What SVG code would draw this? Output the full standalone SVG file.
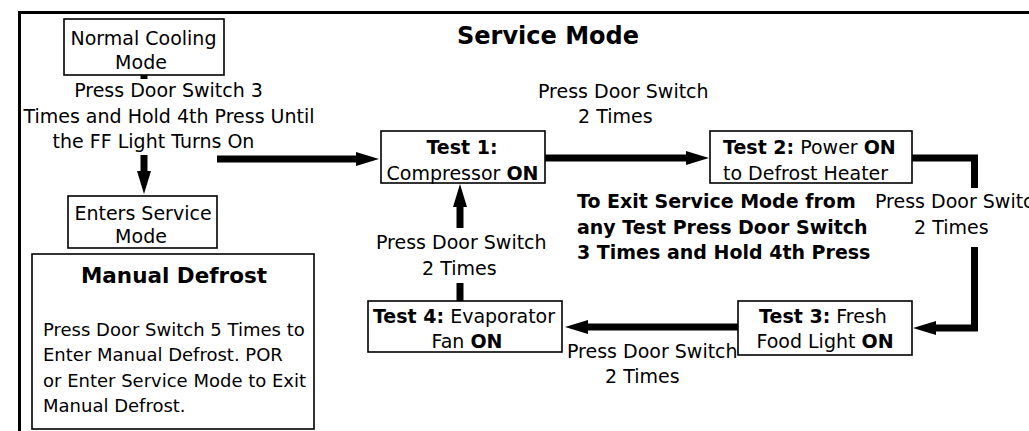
<svg xmlns="http://www.w3.org/2000/svg" width="1029" height="431" viewBox="0 0 1029 431">
<style>
text{font-family:"DejaVu Sans","Verdana",sans-serif;font-size:19px;fill:#000}
.b{font-weight:bold}
.m{text-anchor:middle}
.box{fill:#fff;stroke:#000;stroke-width:1.6}
.con{fill:none;stroke:#000;stroke-width:7;stroke-linejoin:miter;stroke-linecap:butt}
.body{font-size:18px}
</style>
<defs>
<marker id="ah" markerUnits="userSpaceOnUse" markerWidth="23" markerHeight="14" refX="0" refY="7" orient="auto" overflow="visible">
<path d="M0,0 L23,7 L0,14 Z" fill="#000"/>
</marker>
</defs>
<rect width="1029" height="431" fill="#fff"/>
<rect id="frame" x="19.5" y="12.5" width="1100" height="500" fill="none" stroke="#000" stroke-width="3"/>
<text class="b m" x="548" y="44" style="font-size:24px">Service Mode</text>

<g id="connectors">
<path class="con" d="M144,75 V79"/>
<path class="con" d="M144,155 V171" marker-end="url(#ah)"/>
<path class="con" d="M217,159 H356" marker-end="url(#ah)"/>
<path class="con" d="M545,158 H686" marker-end="url(#ah)"/>
<path class="con" d="M912,158 H974.5 V188"/>
<path class="con" d="M974.5,247 V328 H936" marker-end="url(#ah)"/>
<path class="con" d="M738,327 H588" marker-end="url(#ah)"/>
<path class="con" d="M460,301 V283"/>
<path class="con" d="M460,228 V207" marker-end="url(#ah)"/>
</g>

<g id="labels">
<text class="m" x="168.5" y="97">Press Door Switch 3</text>
<text class="m" x="169" y="122.5">Times and Hold 4th Press Until</text>
<text class="m" x="153.5" y="148">the FF Light Turns On</text>
<text x="538" y="98">Press Door Switch</text>
<text x="578" y="123">2 Times</text>
<text x="875" y="208">Press Door Switch</text>
<text x="914" y="234">2 Times</text>
<text x="376" y="249">Press Door Switch</text>
<text x="422" y="275">2 Times</text>
<text x="567" y="358">Press Door Switch</text>
<text x="605" y="383">2 Times</text>
</g>

<g id="exit-note">
<text class="b" x="577" y="208">To Exit Service Mode from</text>
<text class="b" x="577" y="234">any Test Press Door Switch</text>
<text class="b" x="577" y="259">3 Times and Hold 4th Press</text>
</g>

<g id="normal-cooling">
<rect class="box" x="64" y="19" width="160" height="56"/>
<text class="m" x="143.5" y="45">Normal Cooling</text>
<text class="m" x="141" y="69">Mode</text>
</g>

<g id="enters-service">
<rect class="box" x="68" y="196" width="149" height="52"/>
<text class="m" x="143" y="220">Enters Service</text>
<text class="m" x="141" y="243">Mode</text>
</g>

<g id="manual-defrost">
<rect class="box" x="32" y="254" width="282" height="175"/>
<text class="b m" x="174" y="283" style="font-size:21.5px">Manual Defrost</text>
<text class="body" x="43" y="336">Press Door Switch 5 Times to</text>
<text class="body" x="43" y="361">Enter Manual Defrost. POR</text>
<text class="body" x="43" y="387">or Enter Service Mode to Exit</text>
<text class="body" x="43" y="412">Manual Defrost.</text>
</g>

<g id="test1">
<rect class="box" x="381" y="131" width="164" height="52"/>
<text class="b m" x="462" y="154">Test 1:</text>
<text class="m" x="462.5" y="180">Compressor <tspan class="b">ON</tspan></text>
</g>

<g id="test2">
<rect class="box" x="710" y="131" width="202" height="52"/>
<text x="723" y="154"><tspan class="b">Test 2:</tspan> Power <tspan class="b">ON</tspan></text>
<text x="723" y="180">to Defrost Heater</text>
</g>

<g id="test3">
<rect class="box" x="738" y="301" width="174" height="54"/>
<text class="m" x="823" y="323"><tspan class="b">Test 3:</tspan> Fresh</text>
<text class="m" x="825" y="348">Food Light <tspan class="b">ON</tspan></text>
</g>

<g id="test4">
<rect class="box" x="368" y="301" width="194" height="51"/>
<text class="m" x="464" y="323"><tspan class="b">Test 4:</tspan> Evaporator</text>
<text class="m" x="467" y="348">Fan <tspan class="b">ON</tspan></text>
</g>
</svg>
